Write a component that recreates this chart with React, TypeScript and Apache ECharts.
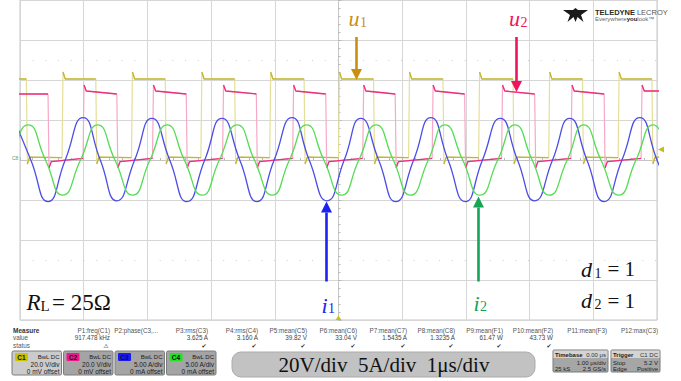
import React, { useEffect, useRef } from "react";
import * as echarts from "echarts";

// ---------- time window (µs, trigger at centre) ----------
const X_MIN = -5;
const X_MAX = 5;

// ---------- C1: u1 (V) ----------
const u1RiseTimes = [-4.34, -3.25, -2.16, -1.08, 0.0, 1.1, 2.2, 3.3, 4.39];
const u1FallTimes = [-4.9, -3.81, -2.72, -1.63, -0.54, 0.55, 1.64, 2.74, 3.83, 4.92];
const u1HighLevels = [44, 40.5, 40.5]; // overshoot, start, end
const u1LowLevels = [-2, 1.4, 1.2]; // undershoot, start, end

// ---------- C2: u2 (V) ----------
const u2RiseTimes = [-4.01, -2.92, -1.82, -0.72, 0.38, 1.47, 2.56, 3.65, 4.75];
const u2FallTimes = [-4.56, -3.48, -2.39, -1.29, -0.2, 0.89, 1.98, 3.08, 4.17];
const u2HighLevels = [37.5, 34.5, 33];
const u2LowLevels = [-4, -0.8, 0.8];

// ---------- C3: i1 (A) peaks / zero crossings / troughs ----------
const i1Times = [
  -5.1, -4.83, -4.56, -4.29, -4.01, -3.74, -3.48, -3.2, -2.93, -2.65, -2.38, -2.1, -1.83,
  -1.55, -1.28, -1.01, -0.73, -0.46, -0.18, 0.09, 0.35, 0.63, 0.9, 1.18, 1.45, 1.72, 1.99,
  2.26, 2.54, 2.81, 3.08, 3.36, 3.63, 3.9, 4.17, 4.45, 4.73, 5.0, 5.27,
];
const i1Values = [
  5.2, 0, -5.2, 0, 5.3, 0, -5.1, 0, 5.2, 0, -5.2, 0, 5.2,
  0, -5.2, 0, 5.3, 0, -5.1, 0, 5.2, 0, -5.2, 0, 5.3, 0, -5.2,
  0, 5.2, 0, -5.1, 0, 5.2, 0, -5.2, 0, 5.3, 0, -5.2,
];

// ---------- C4: i2 (A) ----------
const i2Times = [
  -5.42, -5.15, -4.87, -4.6, -4.33, -4.05, -3.78, -3.51, -3.23, -2.96, -2.69, -2.42, -2.14,
  -1.87, -1.59, -1.32, -1.04, -0.77, -0.5, -0.23, 0.05, 0.32, 0.59, 0.86, 1.13, 1.41, 1.67,
  1.95, 2.22, 2.5, 2.77, 3.04, 3.31, 3.59, 3.85, 4.12, 4.4, 4.67, 4.94, 5.21,
];
const i2Values = [
  -4.4, 0, 4.4, 0, -4.4, 0, 4.4, 0, -4.4, 0, 4.4, 0, -4.4,
  0, 4.4, 0, -4.4, 0, 4.4, 0, -4.4, 0, 4.4, 0, -4.4, 0, 4.4,
  0, -4.4, 0, 4.4, 0, -4.4, 0, 4.4, 0, -4.4, 0, 4.4, 0,
];

// ---------- measurement panel ----------
const measureNames = [
  "P1:freq(C1)", "P2:phase(C3,...", "P3:rms(C3)", "P4:rms(C4)", "P5:mean(C5)", "P6:mean(C6)",
  "P7:mean(C7)", "P8:mean(C8)", "P9:mean(F1)", "P10:mean(F2)", "P11:mean(F3)", "P12:max(C3)",
];
const measureValues = [
  "917.478 kHz", "", "3.625 A", "3.160 A", "39.82 V", "33.04 V",
  "1.5435 A", "1.3235 A", "61.47 W", "43.73 W", "", "",
];
const measureStatus = ["⚠", "", "✔", "✔", "✔", "✔", "✔", "✔", "✔", "✔", "", ""];

const chNames = ["C1", "C2", "C3", "C4"];
const chScales = ["20.0 V/div", "20.0 V/div", "5.00 A/div", "5.00 A/div"];
const chOffsets = ["0 mV offset", "0 mV offset", "0 mA offset", "0 mA offset"];

// faint dotted reference rows (V)
const dottedRows = [50, -50];

// ---------- layout / style ----------
const MEASURE_RIGHT = [110, 158, 208, 258, 307, 357, 407, 455, 503, 553, 607, 658];
const CH_BADGE = ["#c9c300", "#f0168c", "#1a1af0", "#22e022"];
const C1_COLOR = "#c2b636";
const C1_PALE = "#e4df98";
const C2_COLOR = "#ec2f7c";
const C2_PALE = "#f6a8c8";
const C3_COLOR = "#4d4de6";
const C4_COLOR = "#55dc55";
const SERIF = '"Liberation Serif", "Times New Roman", serif';
const SANS = '"Liberation Sans", Arial, sans-serif';

type Pt = [number, number | string];

function buildSquare(rises: number[], falls: number[], high: number[], low: number[]) {
  const ev = rises
    .map((t) => ({ t, up: true }))
    .concat(falls.map((t) => ({ t, up: false })))
    .sort((a, b) => a.t - b.t);
  const full: Pt[] = [];
  const flat: Pt[] = [];
  let lvl = ev[0].up ? low : high;
  full.push([X_MIN - 0.2, lvl[2]]);
  flat.push([X_MIN - 0.2, lvl[2]]);
  for (const e of ev) {
    full.push([e.t, lvl[2]]);
    flat.push([e.t, lvl[2]]);
    flat.push([e.t, "-"]);
    lvl = e.up ? high : low;
    const a: Pt = [e.t + 0.015, lvl[0]];
    const b: Pt = [e.t + 0.05, lvl[1]];
    full.push(a, b);
    flat.push(a, b);
  }
  full.push([X_MAX + 0.2, lvl[1]]);
  flat.push([X_MAX + 0.2, lvl[1]]);
  return { full, flat };
}

function txt(x: number, y: number, text: string, font: string, fill: string, align = "left", extra: any = {}) {
  return {
    type: "text",
    x,
    y,
    silent: true,
    z: 100,
    style: {
      text,
      font,
      fill,
      align,
      textAlign: align,
      verticalAlign: "middle",
      textVerticalAlign: "middle",
      ...extra,
    },
  };
}

function rect(x: number, y: number, w: number, h: number, fill: string, stroke?: string, r = 0) {
  return {
    type: "rect",
    silent: true,
    z: 90,
    shape: { x, y, width: w, height: h, r },
    style: { fill, stroke: stroke || null, lineWidth: stroke ? 1 : 0 },
  };
}

function arrow(x: number, y0: number, tip: number, color: string) {
  const dir = tip > y0 ? 1 : -1;
  const base = tip - dir * 11;
  return [
    {
      type: "line",
      silent: true,
      z: 100,
      shape: { x1: x, y1: y0, x2: x, y2: base },
      style: { stroke: color, lineWidth: 2.6 },
    },
    {
      type: "polygon",
      silent: true,
      z: 100,
      shape: { points: [[x - 5.5, base], [x + 5.5, base], [x, tip]] },
      style: { fill: color },
    },
  ];
}

function buildGraphic() {
  const g: any[] = [];
  // ---- annotations ----
  const gold = "#c8900e";
  const red = "#ef1460";
  const blue = "#1a22f2";
  const green = "#16a457";
  const big = `italic 22px ${SERIF}`;
  const sub = `14px ${SERIF}`;
  g.push(txt(348.5, 18, "u", big, gold), txt(360, 22.5, "1", sub, gold));
  g.push(txt(509, 18, "u", big, red), txt(520.5, 22.5, "2", sub, red));
  g.push(txt(321.5, 305, "i", big, blue), txt(328, 308, "1", sub, blue));
  g.push(txt(473.5, 303, "i", big, green), txt(480, 306.5, "2", sub, green));
  g.push(...arrow(356.5, 37, 80, gold));
  g.push(...arrow(516.5, 37, 92, red));
  g.push(...arrow(326.5, 281.5, 201.5, blue));
  g.push(...arrow(478.5, 281.5, 196.5, green));
  g.push(
    txt(26.5, 302, "R", `italic 23px ${SERIF}`, "#111"),
    txt(40.5, 305.5, "L", `15px ${SERIF}`, "#111"),
    txt(52, 302, "= 25Ω", `23px ${SERIF}`, "#111")
  );
  g.push(
    txt(581, 269, "d", big, "#111"),
    txt(594.5, 273, "1", sub, "#111"),
    txt(607.5, 269, "= 1", `21px ${SERIF}`, "#111"),
    txt(581, 300.5, "d", big, "#111"),
    txt(594.5, 304.5, "2", sub, "#111"),
    txt(607.5, 300.5, "= 1", `21px ${SERIF}`, "#111")
  );

  // ---- scope markers ----
  g.push(txt(12, 157.5, "C8", `5px ${SANS}`, "#5aa05a"));
  g.push({
    type: "polygon",
    silent: true,
    z: 100,
    shape: { points: [[658, 149.6], [664, 146.6], [664, 152.6]] },
    style: { fill: "#c8bc1e" },
  });
  g.push({
    type: "polygon",
    silent: true,
    z: 100,
    shape: { points: [[338.5, 315.5], [335.5, 320], [341.5, 320]] },
    style: { fill: "#c8bc1e" },
  });

  // ---- logo ----
  const lx = 563;
  const ly = 8;
  const logoPts = [
    [0, 2], [10, 2], [12.5, 0], [15, 2], [25, 2], [18, 7], [20.5, 14], [14.5, 9],
    [12.5, 14], [10.5, 9], [4.5, 14], [7, 7],
  ].map((p) => [lx + p[0], ly + p[1]]);
  g.push({ type: "polygon", silent: true, z: 100, shape: { points: logoPts }, style: { fill: "#1a1a1a" } });
  g.push(
    txt(595, 12, "{a|TELEDYNE} {b|LECROY}", `7px ${SANS}`, "#333", "left", {
      rich: {
        a: { font: `bold 7.5px ${SANS}`, fill: "#2a2a2a" },
        b: { font: `7.5px ${SANS}`, fill: "#555" },
      },
    }),
    txt(595, 19, "{a|Everywhere}{b|you}{a|look™}", `6px ${SANS}`, "#555", "left", {
      rich: {
        a: { font: `6px ${SANS}`, fill: "#666" },
        b: { font: `bold 6px ${SANS}`, fill: "#222" },
      },
    })
  );

  // ---- measure table ----
  const f7 = `6.3px ${SANS}`;
  g.push(
    txt(13, 330, "Measure", `bold 6.5px ${SANS}`, "#333"),
    txt(13, 337.5, "value", f7, "#555"),
    txt(13, 345, "status", f7, "#555")
  );
  measureNames.forEach((n, k) => {
    const r = MEASURE_RIGHT[k];
    g.push(txt(r, 330, n, f7, "#555", "right"));
    if (measureValues[k]) g.push(txt(r, 337.5, measureValues[k], f7, "#444", "right"));
    if (measureStatus[k])
      g.push(txt(r - 4, 345, measureStatus[k], `6px "DejaVu Sans", sans-serif`, "#333", "center"));
  });

  // ---- channel boxes ----
  chNames.forEach((n, k) => {
    const x = 12 + k * 51.5;
    const y = 351;
    const w = 49.5;
    g.push(rect(x, y, w, 24, k === 0 ? "#cbcbcb" : "#a4a4a4", "#7c7c7c", 1.5));
    g.push(rect(x + 3, y + 2, 13, 8, CH_BADGE[k], undefined, 1));
    g.push(txt(x + 9.5, y + 6, n, `bold 6.5px ${SANS}`, "#111", "center"));
    g.push(txt(x + w - 2, y + 5.5, "BwL DC", `6px ${SANS}`, "#222", "right"));
    g.push(txt(x + w - 2, y + 13.5, chScales[k], `6.5px ${SANS}`, "#222", "right"));
    g.push(txt(x + w - 2, y + 20, chOffsets[k], `6.5px ${SANS}`, "#222", "right"));
  });

  // ---- big scale pill ----
  g.push(rect(232, 352, 303, 25, "#c2c2c2", "#ababab", 9));
  g.push(
    txt(384, 365, "20V/div\u00a0\u00a05A/div\u00a0\u00a01μs/div", `21px ${SERIF}`, "#111", "center")
  );

  // ---- timebase / trigger ----
  const f6 = `6px ${SANS}`;
  g.push(rect(553, 350, 55, 22, "#a6a6a6", "#7a7a7a", 1));
  g.push(rect(553.5, 350.5, 54, 7.5, "#d4d4d4"));
  g.push(
    txt(555, 354.5, "Timebase", `bold 6px ${SANS}`, "#222"),
    txt(606, 354.5, "0.00 μs", f6, "#333", "right"),
    txt(606, 362.5, "1.00 μs/div", f6, "#222", "right"),
    txt(555, 369, "25 kS", f6, "#222"),
    txt(606, 369, "2.5 GS/s", f6, "#222", "right")
  );
  g.push(rect(611, 350, 49, 22, "#a6a6a6", "#7a7a7a", 1));
  g.push(rect(611.5, 350.5, 48, 7.5, "#d4d4d4"));
  g.push(
    txt(613, 354.5, "Trigger", `bold 6px ${SANS}`, "#222"),
    txt(658, 354.5, "C1 DC", f6, "#333", "right"),
    txt(613, 362.5, "Stop", f6, "#222"),
    txt(658, 362.5, "5.2 V", f6, "#222", "right"),
    txt(613, 369, "Edge", f6, "#222"),
    txt(658, 369, "Positive", f6, "#222", "right")
  );
  return g;
}

export default function App() {
  const ref = useRef<HTMLDivElement>(null);

  useEffect(() => {
    if (!ref.current) return;
    const chart = echarts.init(ref.current, undefined, { renderer: "svg" });
    const u1 = buildSquare(u1RiseTimes, u1FallTimes, u1HighLevels, u1LowLevels);
    const u2 = buildSquare(u2RiseTimes, u2FallTimes, u2HighLevels, u2LowLevels);
    const i1 = i1Times.map((t, k) => [t, i1Values[k]]);
    const i2 = i2Times.map((t, k) => [t, i2Values[k]]);

    const gridLine = { show: true, lineStyle: { color: "#d6d6d6", width: 1 } };
    const tickStyle = { color: "#b8b8b8", width: 1 };
    const lineBase = { type: "line", showSymbol: false, symbol: "none", silent: true, clip: true };

    chart.setOption({
      animation: false,
      backgroundColor: "#ffffff",
      grid: {
        left: 20,
        top: 0,
        width: 637,
        height: 320,
        show: true,
        borderColor: "#c6c6c6",
        borderWidth: 1,
        backgroundColor: "transparent",
      },
      xAxis: {
        type: "value",
        min: X_MIN,
        max: X_MAX,
        interval: 1,
        axisLabel: { show: false },
        axisLine: { show: true, onZero: true, lineStyle: { color: "#c4c4c4" } },
        axisTick: { show: true, inside: true, length: 3, lineStyle: tickStyle },
        minorTick: { show: true, splitNumber: 5, length: 2, lineStyle: tickStyle },
        splitLine: gridLine,
      },
      yAxis: [
        {
          type: "value",
          min: -80,
          max: 80,
          interval: 20,
          axisLabel: { show: false },
          axisLine: { show: true, onZero: true, lineStyle: { color: "#c4c4c4" } },
          axisTick: { show: true, inside: true, length: 3, lineStyle: tickStyle },
          minorTick: { show: true, splitNumber: 5, length: 2, lineStyle: tickStyle },
          splitLine: gridLine,
        },
        { type: "value", min: -20, max: 20, interval: 5, show: false },
      ],
      series: [
        {
          ...lineBase,
          name: "u1 edges",
          yAxisIndex: 0,
          data: u1.full,
          lineStyle: { color: C1_PALE, width: 1.2 },
          z: 2,
          markLine: {
            silent: true,
            symbol: "none",
            label: { show: false },
            lineStyle: { color: "#cfcfcf", type: [1, 11.7], width: 1 },
            data: dottedRows.map((v) => ({ yAxis: v })),
          },
        },
        { ...lineBase, name: "u1", yAxisIndex: 0, data: u1.flat, connectNulls: false, lineStyle: { color: C1_COLOR, width: 1.3 }, z: 3 },
        { ...lineBase, name: "u2 edges", yAxisIndex: 0, data: u2.full, lineStyle: { color: C2_PALE, width: 1.2 }, z: 4 },
        { ...lineBase, name: "u2", yAxisIndex: 0, data: u2.flat, connectNulls: false, lineStyle: { color: C2_COLOR, width: 1.3 }, z: 5 },
        { ...lineBase, name: "i1", yAxisIndex: 1, data: i1, smooth: 0.55, lineStyle: { color: C3_COLOR, width: 1.3 }, z: 6 },
        { ...lineBase, name: "i2", yAxisIndex: 1, data: i2, smooth: 0.55, lineStyle: { color: C4_COLOR, width: 1.3 }, z: 7 },
      ],
      graphic: buildGraphic(),
    });
    return () => chart.dispose();
  }, []);

  return (
    <div
      ref={ref}
      style={{ position: "fixed", left: 0, top: 0, width: 681, height: 381, background: "#ffffff" }}
    />
  );
}
